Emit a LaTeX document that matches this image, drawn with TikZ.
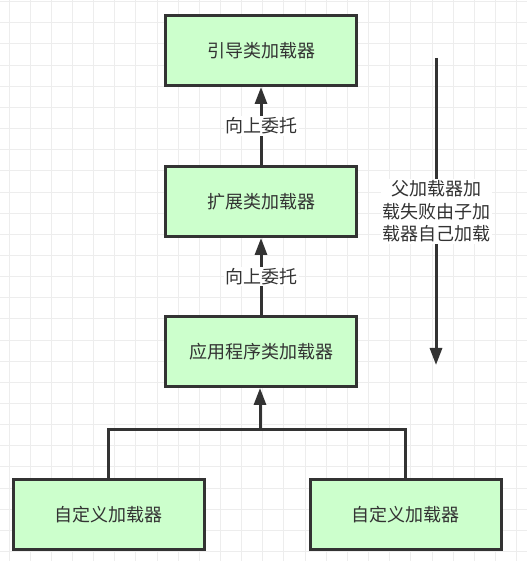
\documentclass[tikz,border=0pt]{standalone}
\usepackage{fontspec}
\setmainfont{Noto Sans CJK SC}
\usepackage{xcolor}
\usepackage{tikz}
\usetikzlibrary{positioning,arrows.meta}
\definecolor{boxfill}{HTML}{CCFFCC}
\definecolor{ink}{HTML}{333333}

\begin{document}
\begin{tikzpicture}[x=1pt,y=1pt,node distance=78pt,
    box/.style={draw=ink,fill=boxfill,line width=3pt,minimum width=191pt,minimum height=70pt,inner sep=0pt,text=ink,font=\fontsize{18}{22.5}\selectfont},
    lbl/.style={fill=white,text=ink,inner sep=1.5pt,align=center,font=\fontsize{18}{22.5}\selectfont},
    arr/.style={draw=ink,line width=3pt,-{Triangle[length=17pt,width=12pt]}},
    gridline/.style={draw=black!7,line width=1pt}]
    \useasboundingbox[fill=white] (0,0) rectangle (527,561);
    \foreach \i in {0,...,24} \draw[gridline] ({9+21.15*\i},0) -- ({9+21.15*\i},561);
    \foreach \j in {0,...,26} \draw[gridline] (0,{9.4+21.15*\j}) -- (527,{9.4+21.15*\j});

    \node[box] (boot) at (261,510.5) {引导类加载器};
    \node[box,below=of boot] (ext) {扩展类加载器};
    \node[box,below=77pt of ext] (app) {应用程序类加载器};

    \node[box] (cl1) at (108.5,46) {自定义加载器};
    \node[box] (cl2) at (405.5,46) {自定义加载器};

    \coordinate (fork) at (260,131);
    \coordinate (fs) at (436,503);
    \coordinate (fe) at (436,196);

    \draw[arr] (ext) -- node[lbl] {向上委托} (boot);
    \draw[arr] (app) -- node[lbl] {向上委托} (ext);
    \draw[draw=ink,line width=3pt] (cl1.north) |- (fork) -| (cl2.north);
    \draw[arr] (fork) -- (fork |- app.south);
    \draw[arr] (fs) -- node[lbl] {父加载器加\\载失败由子加\\载器自己加载} (fe);
\end{tikzpicture}
\end{document}
